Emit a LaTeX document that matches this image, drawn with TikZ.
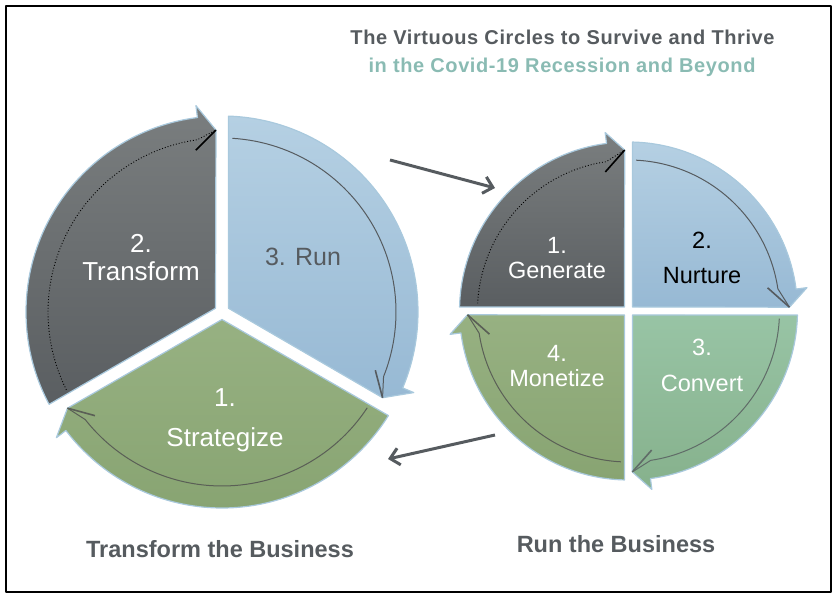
\documentclass[tikz,border=0pt]{standalone}
\usepackage{fontspec}
\setmainfont{Liberation Sans}
\newfontfamily\headfont{Liberation Sans}[LetterSpace=3]
\usetikzlibrary{arrows.meta,positioning}
\definecolor{darkTop}{HTML}{7A7E7F}
\definecolor{darkBot}{HTML}{5A5E61}
\definecolor{blueTop}{HTML}{B5D0E3}
\definecolor{blueBot}{HTML}{97B9D4}
\definecolor{oliveTop}{HTML}{97B182}
\definecolor{oliveBot}{HTML}{88A472}
\definecolor{tealTop}{HTML}{98C4A5}
\definecolor{tealBot}{HTML}{86B18C}
\definecolor{rimColor}{HTML}{A9C9DD}
\definecolor{inkColor}{HTML}{565B5F}
\definecolor{subColor}{HTML}{8ABBB3}
\tikzset{
	darkpie/.style={top color=darkTop,bottom color=darkBot,draw=rimColor,line width=1.2pt},
	bluepie/.style={top color=blueTop,bottom color=blueBot,draw=rimColor,line width=1.2pt},
	olivepie/.style={top color=oliveTop,bottom color=oliveBot,draw=rimColor,line width=1.2pt},
	tealpie/.style={top color=tealTop,bottom color=tealBot,draw=rimColor,line width=1.2pt},
	darkpie line/.style={draw=black,dotted,line width=0.9pt},
	bluepie line/.style={draw=inkColor,line width=1pt},
	olivepie line/.style={draw=inkColor!90!olive,line width=1pt},
	tealpie line/.style={draw=inkColor!80!tealBot,line width=1pt},
	lbl/.style={align=center,text=white,text depth=0pt,inner sep=0pt},
	foot/.style={font=\fontsize{23.5}{28}\selectfont\bfseries,text=inkColor},
	link/.style={->,draw=inkColor,line width=3pt}
}
% one segment of a ring: start angle, end angle, style (radius etc. set per ring)
\newcommand{\cycsector}[3]{
	\path[#3] ({(#1+#2)/2}:\cvd) -- ({#1-\ceps}:\crad)
		arc[start angle={#1-\ceps},end angle={#2+\ceps+\ctip},radius=\crad]
		-- ({#2+\ceps+\ctip}:{\crad+\cbarb}) -- ({#2+\ceps}:{\crad-\cdip}) -- cycle;
	\draw[#3 line] ({#1-\ceps-1.5}:{\crad-\cin})
		arc[start angle={#1-\ceps-1.5},end angle={#2+\ceps+\ctip+1},radius={\crad-\cin}]
		-- ({#2+\ceps}:{\crad-\cdip});
	\draw[#3 line,solid,line width=1.6pt] ({#2+\ceps+\ctip+2}:{\crad-\cin-10}) -- ({#2+\ceps}:{\crad-\cdip});
}

\begin{document}
\begin{tikzpicture}[x=1pt,y=1pt,>={Straight Barb[length=9pt,width=17pt]},line join=round]
	\useasboundingbox (0,0) rectangle (837,599);
	\draw[line width=1.5pt] (6,7) rectangle (831,593);

	% transform the business
	\begin{scope}[shift={(222,287)}]
		\def\crad{196}\def\ceps{1.9}\def\ctip{5.3}\def\cvd{7.5}
		\def\cbarb{12}\def\cdip{14}\def\cin{22}
		\cycsector{210}{90}{darkpie}
		\cycsector{90}{-30}{bluepie}
		\cycsector{330}{210}{olivepie}
	\end{scope}
	\node[lbl,font=\fontsize{26}{28}\selectfont] (tfText) at (141,342) {2.\\Transform};
	\node[lbl,font=\fontsize{25}{28}\selectfont,text=inkColor] (runText) at (303,342) {3. Run};
	\node[lbl,font=\fontsize{26}{40}\selectfont] (stText) at (225,181) {1.\\Strategize};

	% run the business
	\begin{scope}[shift={(628.5,288)}]
		\def\crad{169}\def\ceps{1.36}\def\ctip{6.1}\def\cvd{5.66}
		\def\cbarb{11}\def\cdip{8}\def\cin{18}
		\cycsector{180}{90}{darkpie}
		\cycsector{90}{0}{bluepie}
		\cycsector{0}{-90}{tealpie}
		\cycsector{270}{180}{olivepie}
	\end{scope}
	\node[lbl,font=\fontsize{23.5}{25}\selectfont] (genText) at (557,341.5) {1.\\Generate};
	\node[lbl,font=\fontsize{23.5}{35}\selectfont,text=black] (nurText) at (702,341.5) {2.\\Nurture};
	\node[lbl,font=\fontsize{23.5}{36}\selectfont] (convText) at (702,234) {3.\\Convert};
	\node[lbl,font=\fontsize{23.5}{25}\selectfont] (monText) at (557,233.5) {4.\\Monetize};

	% links between the two circles
	\coordinate (tfOut) at (390,439);
	\coordinate (runIn) at (495,411);
	\coordinate (runOut) at (495,164);
	\coordinate (tfIn) at (388,140);
	\draw[link] (tfOut) -- (runIn);
	\draw[link] (runOut) -- (tfIn);

	% titles
	\node[anchor=base,font=\headfont\fontsize{20}{24}\selectfont\bfseries,text=inkColor] (head) at (562.5,554) {The Virtuous Circles to Survive and Thrive};
	\node[anchor=base,font=\headfont\fontsize{20}{24}\selectfont\bfseries,text=subColor] (subhead) at (562,526) {in the Covid-19 Recession and Beyond};
	\node[foot,anchor=base] (tfFoot) at (220,41) {Transform the Business};
	\node[foot,anchor=base] (runFoot) at (616,46) {Run the Business};
\end{tikzpicture}
\end{document}
